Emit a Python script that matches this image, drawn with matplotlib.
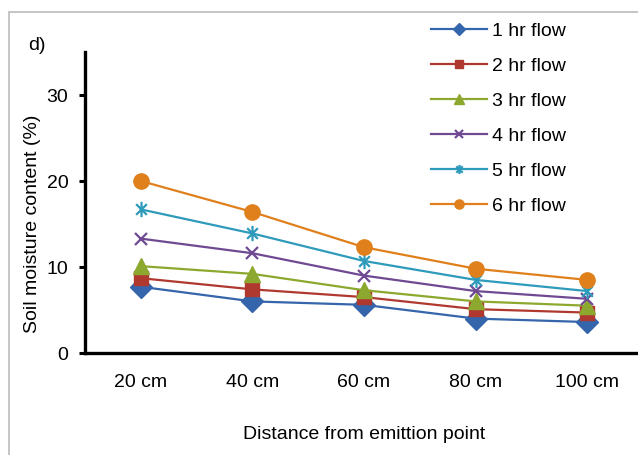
import matplotlib
matplotlib.use("Agg")
import matplotlib.pyplot as plt
from matplotlib.path import Path
from matplotlib.patches import Rectangle

plt.rcParams["font.family"] = ["Liberation Sans", "DejaVu Sans"]

# данные
distances = ["20 cm", "40 cm", "60 cm", "80 cm", "100 cm"]
flow_1hr = [7.7, 6.0, 5.6, 4.0, 3.6]
flow_2hr = [8.7, 7.4, 6.5, 5.1, 4.7]
flow_3hr = [10.1, 9.2, 7.3, 6.0, 5.5]
flow_4hr = [13.3, 11.6, 9.0, 7.2, 6.3]
flow_5hr = [16.7, 13.9, 10.7, 8.5, 7.2]
flow_6hr = [20.0, 16.4, 12.3, 9.8, 8.5]
labels = ["1 hr flow", "2 hr flow", "3 hr flow", "4 hr flow", "5 hr flow", "6 hr flow"]
y_ticks = [0, 10, 20, 30]

# звёздочка как в Excel: крестик + вертикальная черта
star = Path([(0, -1), (0, 1), (-0.7, -0.7), (0.7, 0.7), (-0.7, 0.7), (0.7, -0.7)],
            [Path.MOVETO, Path.LINETO, Path.MOVETO, Path.LINETO, Path.MOVETO, Path.LINETO])

styles = [
    ("#3565AA", "D", 11),
    ("#B0392F", "s", 10),
    ("#8DA82F", "^", 11),
    ("#6F4A93", "x", 9),
    ("#2E9BBB", star, 11),
    ("#E0801C", "o", 11),
]
series = [flow_1hr, flow_2hr, flow_3hr, flow_4hr, flow_5hr, flow_6hr]

fig = plt.figure(figsize=(6.38, 4.55), dpi=100)
ax = fig.add_axes([85 / 638, 102 / 455, 558 / 638, 301 / 455])

x = range(len(distances))
for vals, lab, (c, m, ms) in zip(series, labels, styles):
    ax.plot(x, vals, color=c, marker=m, markersize=ms, linewidth=1.6,
            markeredgewidth=1.6 if m in ("x",) or m is star else 1.0,
            markeredgecolor=c, markerfacecolor=c, label=lab)

ax.set_xlim(-0.5, len(distances) - 0.5)
ax.set_ylim(0, 35)
ax.set_yticks(y_ticks)
ax.set_xticks(list(x))
ax.set_xticklabels(distances, fontsize=14)
ax.tick_params(axis="y", labelsize=14, width=2.2, length=4, pad=8)
ax.tick_params(axis="x", length=0, pad=15)
for s in ["top", "right"]:
    ax.spines[s].set_visible(False)
for s in ["left", "bottom"]:
    ax.spines[s].set_linewidth(2.4)

ax.set_xlabel("Distance from emittion point", fontsize=14, labelpad=25)
fig.text(33 / 638, 1 - 224 / 455, "Soil moisture content (%)", fontsize=14,
         rotation=90, ha="center", va="center")

fig.text(28 / 638, 1 - 45 / 455, "d)", fontsize=14, va="center")

fig.legend(loc="upper left", bbox_to_anchor=(431 / 638, 1 - 22 / 455), frameon=False,
           fontsize=14, handlelength=2.9, handletextpad=0.25, labelspacing=0.9,
           borderpad=0, borderaxespad=0, markerscale=0.6)

fig.add_artist(Rectangle((9 / 638, -0.1), 1.0, (455 - 12) / 455 + 0.1,
                         transform=fig.transFigure, fill=False,
                         edgecolor="#c0c0c0", linewidth=1.3))

plt.savefig("out.png", dpi=100)
plt.close()
